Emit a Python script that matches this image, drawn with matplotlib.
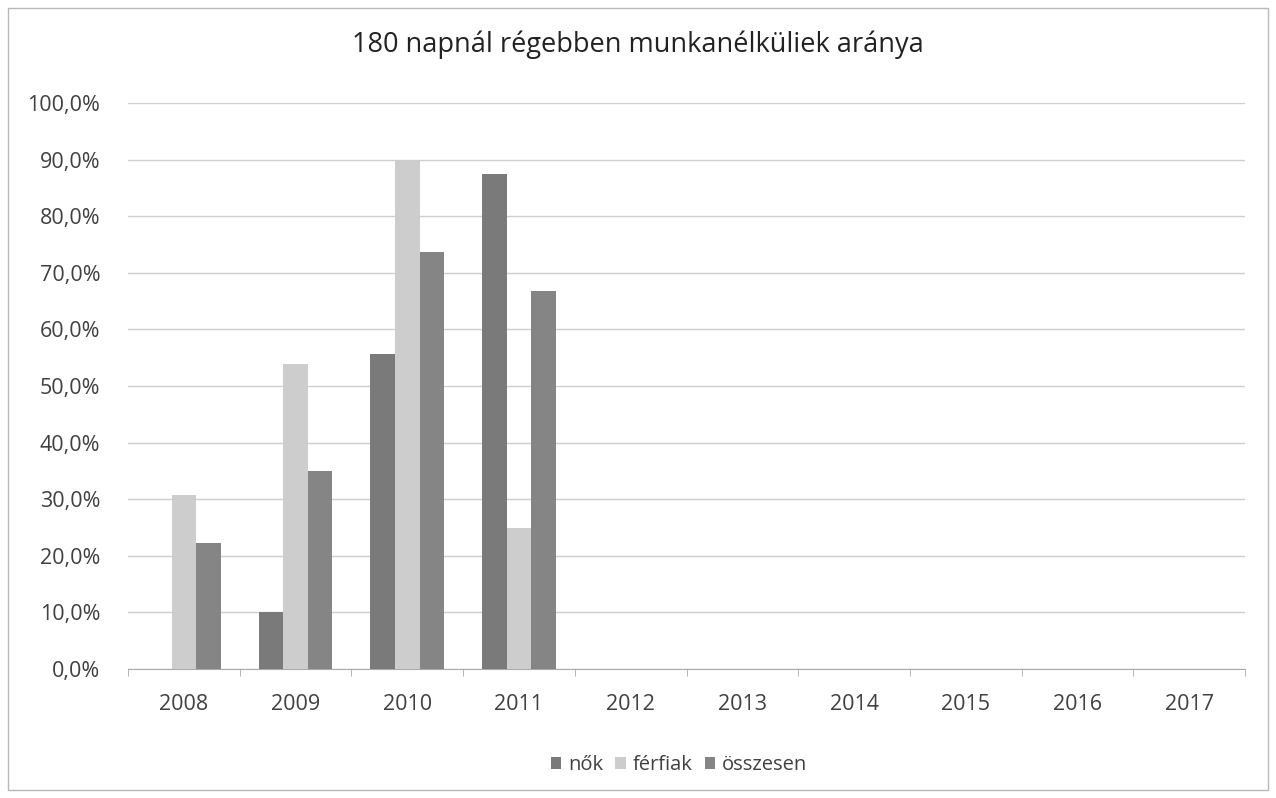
import matplotlib
matplotlib.use("Agg")
import matplotlib.pyplot as plt
import numpy as np
from matplotlib.patches import Rectangle

years = ["2008", "2009", "2010", "2011", "2012", "2013", "2014", "2015", "2016", "2017"]
nok = [0, 10.0, 55.6, 87.5, 0, 0, 0, 0, 0, 0]
ferfiak = [30.8, 53.8, 90.0, 25.0, 0, 0, 0, 0, 0, 0]
osszesen = [22.2, 35.0, 73.7, 66.7, 0, 0, 0, 0, 0, 0]
series_names = ["nők", "férfiak", "összesen"]
title = "180 napnál régebben munkanélküliek aránya"
yticks = np.arange(0, 101, 10)

colors = ["#7a7a7a", "#cdcdcd", "#858585"]
font = ["Open Sans", "DejaVu Sans"]
tcol = "#404040"

fig = plt.figure(figsize=(12.76, 7.98), dpi=100)
fig.patches.append(Rectangle((8/1276, 8/798), 1260/1276, 782/798, transform=fig.transFigure,
                             fill=False, edgecolor="#b8b8b8", linewidth=1.0))
ax = fig.add_axes([128/1276, 1-669/798, 1117/1276, 566/798])

x = np.arange(len(years))
w = 0.22
for i, (vals, name) in enumerate(zip([nok, ferfiak, osszesen], series_names)):
    ax.bar(x + (i - 1) * w, vals, width=w, color=colors[i], label=name, zorder=3)

ax.set_xlim(-0.5, len(years) - 0.5)
ax.set_ylim(0, 100)
ax.set_yticks(yticks)
ax.set_yticklabels([f"{v:.1f}%".replace(".", ",") for v in yticks], fontsize=15.5, color=tcol, family=font)
ax.set_xticks(x)
ax.set_xticklabels(years, fontsize=15.5, color=tcol, family=font)
ax.tick_params(axis="y", length=0, pad=20)
ax.tick_params(axis="x", length=0, pad=18)
ax.set_xticks(np.arange(-0.5, len(years), 1), minor=True)
ax.tick_params(axis="x", which="minor", length=5, color="#aaaaaa", direction="out")
ax.grid(axis="y", color="#cfcfcf", linewidth=1.0, zorder=0)
for s in ["top", "right", "left"]:
    ax.spines[s].set_visible(False)
ax.spines["bottom"].set_color("#aaaaaa")

fig.text(0.5, 1-45/798, title, ha="center", va="center", fontsize=19.5, color="#222222", family=font)
fig.legend(loc="center", bbox_to_anchor=(679/1276, 1-765/798), ncol=3, frameon=False,
           prop={"family": font, "size": 14.5}, handlelength=0.5, handleheight=0.5,
           handletextpad=0.35, columnspacing=0.6, labelcolor=tcol)

fig.savefig("out.png", dpi=100)
